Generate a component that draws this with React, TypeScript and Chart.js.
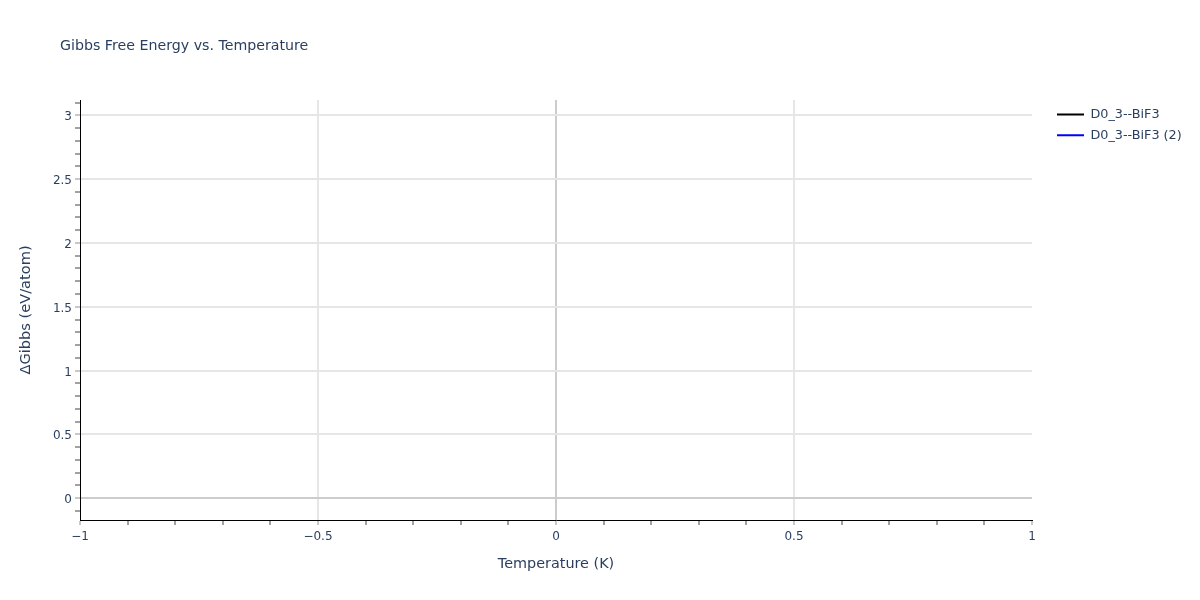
import React, { useEffect, useRef } from "react";
import { Chart, registerables } from "chart.js";

Chart.register(...registerables);

const chartTitle = "Gibbs Free Energy vs. Temperature";
const xTitle = "Temperature (K)";
const yTitle = "ΔGibbs (eV/atom)";
const seriesLabels = ["D0_3--BiF3", "D0_3--BiF3 (2)"];
const seriesColors = ["#000000", "#0000ff"];
const series1: { x: number; y: number }[] = [];
const series2: { x: number; y: number }[] = [];
const xRange = [-1, 1];
const yRange = [-0.171, 3.12];
const majorStep = 0.5;
const minorStep = 0.1;

const FONT = "'DejaVu Sans', Verdana, sans-serif";
const TEXT = "#2a3f5f";
const LEGEND_PAD = 8;
const LEGEND_BOX = 27;
const LEGEND_FONT = 12.8;

const isMajor = (v: number) => Math.abs(v / majorStep - Math.round(v / majorStep)) < 1e-6;
const fmt = (v: number) => {
  const r = Math.round(v * 1000) / 1000;
  return String(r).replace("-", "\u2212");
};

export default function App() {
  const ref = useRef<HTMLCanvasElement>(null);
  useEffect(() => {
    if (!ref.current) return;
    // measure legend width so that the legend starts where we want it
    const mctx = document.createElement("canvas").getContext("2d")!;
    mctx.font = `${LEGEND_FONT}px ${FONT}`;
    const textW = Math.max(...seriesLabels.map((s) => mctx.measureText(s).width));
    const legendW = LEGEND_PAD + LEGEND_BOX + LEGEND_FONT / 2 + textW + 10;
    const legendLeft = 1057 - LEGEND_PAD;
    const padRight = Math.max(0, 1200 - legendLeft - legendW);
    const spacerW = legendLeft - 1032;

    const titlePlugin = {
      id: "plotTitle",
      afterDraw(chart: any) {
        const ctx = chart.ctx;
        ctx.save();
        ctx.font = `14.2px ${FONT}`;
        ctx.fillStyle = TEXT;
        ctx.textBaseline = "alphabetic";
        ctx.textAlign = "left";
        ctx.fillText(chartTitle, 60, 50);
        ctx.restore();
      },
    };
    const gridColor = (edgeHidden: boolean) => (c: any) => {
      const v = c.tick?.value;
      if (v === undefined || !isMajor(v)) return "rgba(0,0,0,0)";
      if (Math.abs(v) < 1e-9) return "#cccccc";
      if (edgeHidden && Math.abs(Math.abs(v) - 1) < 1e-9) return "rgba(0,0,0,0)";
      return "#e6e6e6";
    };
    const lineW = (c: any) => 2;
    const tickCol = (c: any) => {
      const v = c.tick?.value;
      return v !== undefined && isMajor(v) ? "#c8c8c8" : "#444444";
    };
    const tickW = (c: any) => {
      const v = c.tick?.value;
      return v !== undefined && isMajor(v) ? 2 : 1;
    };
    const chart = new Chart(ref.current, {
      type: "line",
      data: {
        datasets: [
          {
            label: seriesLabels[0],
            data: series1,
            borderColor: seriesColors[0],
            backgroundColor: seriesColors[0],
            pointBorderColor: seriesColors[0],
            pointBorderWidth: 2,
            borderWidth: 2,
            pointRadius: 0,
            yAxisID: "y",
          },
          {
            label: seriesLabels[1],
            data: series2,
            borderColor: seriesColors[1],
            backgroundColor: seriesColors[1],
            pointBorderColor: seriesColors[1],
            pointBorderWidth: 2,
            borderWidth: 2,
            pointRadius: 0,
            yAxisID: "y",
          },
        ],
      },
      options: {
        animation: false,
        responsive: false,
        devicePixelRatio: 1,
        layout: { padding: { left: 0, top: 100, right: padRight, bottom: 0 } },
        plugins: {
          title: { display: false },
          tooltip: { enabled: false },
          legend: {
            display: true,
            position: "right",
            align: "start",
            labels: {
              usePointStyle: true,
              pointStyle: "line",
              pointStyleWidth: LEGEND_BOX,
              boxWidth: LEGEND_BOX,
              padding: LEGEND_PAD,
              color: TEXT,
              font: { family: FONT, size: LEGEND_FONT },
            },
          },
        },
        scales: {
          x: {
            type: "linear",
            position: "bottom",
            min: xRange[0],
            max: xRange[1],
            afterFit: (s: any) => {
              s.height = 80;
            },
            border: { display: true, color: "#000000", width: 1 },
            grid: {
              color: gridColor(true),
              lineWidth: lineW,
              tickColor: tickCol,
              tickWidth: tickW,
              tickLength: 5,
              drawTicks: true,
            },
            ticks: {
              stepSize: minorStep,
              maxTicksLimit: 1000,
              autoSkip: false,
              maxRotation: 0,
              padding: 5,
              color: TEXT,
              font: { family: FONT, size: 12 },
              callback: (v: any) => (isMajor(Number(v)) ? fmt(Number(v)) : ""),
            },
            title: {
              display: true,
              text: xTitle,
              color: TEXT,
              font: { family: FONT, size: 14.4 },
              padding: { top: 0, bottom: 27 },
            },
          },
          y: {
            type: "linear",
            position: "left",
            min: yRange[0],
            max: yRange[1],
            afterFit: (s: any) => {
              s.width = 80;
            },
            border: { display: true, color: "#000000", width: 1 },
            grid: {
              color: gridColor(false),
              lineWidth: lineW,
              tickColor: tickCol,
              tickWidth: tickW,
              tickLength: 5,
              drawTicks: true,
            },
            ticks: {
              stepSize: minorStep,
              maxTicksLimit: 1000,
              includeBounds: false,
              autoSkip: false,
              padding: 3,
              labelOffset: 2,
              color: TEXT,
              font: { family: FONT, size: 12 },
              callback: (v: any) => (isMajor(Number(v)) ? fmt(Number(v)) : ""),
            },
            title: {
              display: true,
              text: yTitle,
              color: TEXT,
              font: { family: FONT, size: 14.6 },
              padding: { top: 17, bottom: 0 },
            },
          },
          ySpacer: {
            type: "linear",
            position: "right",
            display: true,
            afterFit: (s: any) => {
              s.width = spacerW;
            },
            grid: { display: false, drawTicks: false },
            border: { display: false },
            ticks: { display: false },
          },
        },
      } as any,
      plugins: [titlePlugin],
    });
    return () => chart.destroy();
  }, []);
  return (
    <div style={{ position: "fixed", left: 0, top: 0, width: 1200, height: 600, background: "#ffffff" }}>
      <canvas ref={ref} width={1200} height={600} style={{ width: 1200, height: 600 }} />
    </div>
  );
}
